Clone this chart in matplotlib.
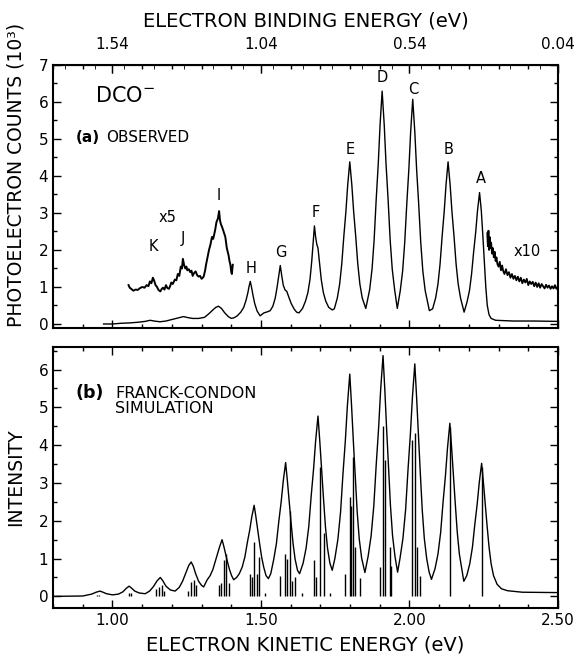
import matplotlib
matplotlib.use("Agg")
import matplotlib.pyplot as plt
from matplotlib.ticker import MultipleLocator, FixedLocator

plt.rcParams['font.family'] = ['DejaVu Sans']

# observed spectrum (eKE in eV, counts in 10^3)
obs_x = [0.97, 1.00, 1.03, 1.06, 1.09, 1.11, 1.127, 1.14, 1.16, 1.18, 1.20, 1.22, 1.239, 1.255, 1.27,
         1.29, 1.31, 1.325, 1.338, 1.348, 1.357, 1.367, 1.378, 1.39, 1.400,
         1.41, 1.42, 1.432, 1.442, 1.450, 1.456, 1.460, 1.464, 1.468, 1.473, 1.479, 1.487, 1.497,
         1.51, 1.522, 1.531, 1.540, 1.548, 1.554, 1.559, 1.565, 1.570, 1.575, 1.581, 1.587, 1.594,
         1.602, 1.612, 1.620, 1.628,
         1.640, 1.650, 1.658, 1.665, 1.671, 1.676, 1.680, 1.684, 1.688, 1.692, 1.697, 1.703, 1.710,
         1.718, 1.728, 1.740,
         1.747, 1.757, 1.765, 1.772, 1.779, 1.786, 1.792, 1.799, 1.806, 1.812, 1.819, 1.826, 1.833,
         1.841, 1.853,
         1.866, 1.874, 1.881, 1.888, 1.895, 1.901, 1.908, 1.915, 1.921, 1.928, 1.935, 1.942, 1.950,
         1.959,
         1.969, 1.977, 1.984, 1.991, 1.998, 2.004, 2.011, 2.018, 2.024, 2.031, 2.038, 2.045, 2.053,
         2.067,
         2.078, 2.088, 2.096, 2.103, 2.110, 2.117, 2.123, 2.130, 2.137, 2.143, 2.150, 2.157, 2.164,
         2.172, 2.184,
         2.194, 2.202, 2.209, 2.216, 2.223, 2.229, 2.236, 2.242, 2.247, 2.252, 2.257, 2.262, 2.268,
         2.275, 2.29, 2.35, 2.42, 2.50]
obs_y = [0.0, 0.0, 0.02, 0.03, 0.05, 0.07, 0.10, 0.08, 0.06, 0.08, 0.12, 0.16, 0.20, 0.17, 0.15,
         0.15, 0.18, 0.28, 0.38, 0.45, 0.48, 0.42, 0.30, 0.20, 0.15,
         0.17, 0.22, 0.32, 0.45, 0.65, 0.85, 1.02, 1.15, 1.00, 0.78, 0.55, 0.35, 0.22,
         0.30, 0.33, 0.36, 0.48, 0.70, 0.98, 1.25, 1.58, 1.30, 1.05, 0.92, 0.88, 0.72,
         0.55, 0.40, 0.32, 0.30,
         0.42, 0.62, 0.85, 1.20, 1.70, 2.25, 2.65, 2.35, 2.15, 2.05, 1.65, 1.20, 0.85,
         0.62, 0.45, 0.38,
         0.41, 0.70, 1.08, 1.62, 2.37, 3.04, 3.75, 4.38, 3.75, 3.04, 2.37, 1.62, 1.08,
         0.70, 0.42,
         0.93, 1.48, 2.27, 3.37, 4.34, 5.38, 6.29, 5.38, 4.34, 3.37, 2.27, 1.48, 0.93,
         0.42,
         0.90, 1.43, 2.20, 3.25, 4.19, 5.19, 6.07, 5.19, 4.19, 3.25, 2.20, 1.43, 0.90,
         0.36,
         0.41, 0.70, 1.08, 1.62, 2.37, 3.04, 3.75, 4.38, 3.75, 3.04, 2.37, 1.62, 1.08,
         0.70, 0.32,
         0.60, 0.90, 1.34, 1.94, 2.48, 3.05, 3.55, 3.05, 2.40, 1.70, 1.00, 0.50, 0.25,
         0.15, 0.10, 0.08, 0.08, 0.07]

# x5 expanded trace
x5_x = [1.054, 1.058, 1.063, 1.07, 1.078, 1.085, 1.093, 1.10, 1.108, 1.115, 1.121, 1.126, 1.131,
        1.136, 1.140, 1.145, 1.150, 1.155, 1.161, 1.166, 1.170, 1.175, 1.180, 1.185, 1.190, 1.194,
        1.198, 1.203, 1.21, 1.215, 1.22, 1.225, 1.23, 1.234, 1.237, 1.241, 1.245, 1.249, 1.252,
        1.257, 1.262, 1.266, 1.27, 1.275, 1.28, 1.285, 1.29, 1.295, 1.30, 1.304, 1.307, 1.312,
        1.315, 1.320, 1.325, 1.330, 1.335, 1.339, 1.342, 1.346, 1.35, 1.355, 1.359, 1.362,
        1.365, 1.369, 1.372, 1.376, 1.38, 1.385, 1.388, 1.391, 1.394, 1.397, 1.400, 1.402, 1.405]
x5_y = [1.05, 0.98, 0.95, 0.90, 0.93, 0.92, 0.97, 1.00, 0.98, 1.05, 1.02, 1.15, 1.10,
        1.25, 1.18, 1.05, 1.00, 0.92, 0.88, 0.95, 0.98, 0.93, 1.05, 0.97, 0.95, 1.02,
        1.12, 1.08, 1.20, 1.18, 1.35, 1.30, 1.55, 1.50, 1.76, 1.60, 1.50, 1.55, 1.45,
        1.48, 1.40, 1.44, 1.30, 1.38, 1.42, 1.32, 1.28, 1.30, 1.22, 1.25, 1.28, 1.45,
        1.60, 1.80, 2.00, 2.15, 2.35, 2.30, 2.40, 2.55, 2.75, 2.85, 3.05, 2.80,
        2.70, 2.62, 2.55, 2.45, 2.35, 2.05, 1.95, 1.85, 1.70, 1.60, 1.40, 1.35, 1.60]

# x10 expanded trace
x10_x = [2.262, 2.264, 2.266, 2.268, 2.270, 2.272, 2.275, 2.278, 2.281, 2.284, 2.287, 2.29, 2.293,
         2.296, 2.30, 2.304, 2.308, 2.312, 2.316, 2.32, 2.325, 2.33, 2.335, 2.34, 2.345, 2.35,
         2.355, 2.36, 2.365, 2.37, 2.375, 2.38, 2.385, 2.39, 2.395, 2.40, 2.405, 2.41, 2.415,
         2.42, 2.425, 2.43, 2.435, 2.44, 2.445, 2.45, 2.455, 2.46, 2.465, 2.47, 2.475, 2.48,
         2.485, 2.49, 2.495, 2.50]
x10_y = [2.45, 2.10, 2.52, 2.00, 2.35, 2.05, 2.20, 1.90, 2.05, 1.80, 1.95, 1.70, 1.80,
         1.62, 1.55, 1.68, 1.45, 1.58, 1.42, 1.35, 1.48, 1.32, 1.40, 1.25, 1.35, 1.22,
         1.30, 1.18, 1.28, 1.15, 1.25, 1.10, 1.20, 1.12, 1.22, 1.05, 1.15, 1.08, 1.14,
         1.02, 1.12, 1.00, 1.10, 0.98, 1.08, 1.02, 0.96, 1.06, 0.98, 1.04, 0.95, 1.02,
         0.96, 1.05, 0.95, 1.00]

peak_names = ['K', 'J', 'I', 'H', 'G', 'F', 'E', 'D', 'C', 'B', 'A']
peak_x = [1.137, 1.237, 1.357, 1.465, 1.566, 1.683, 1.799, 1.909, 2.012, 2.131, 2.239]
peak_lab_y = [2.08, 2.30, 3.47, 1.49, 1.94, 3.01, 4.71, 6.65, 6.34, 4.71, 3.94]

# Franck-Condon simulation envelope
sim_x = [0.80, 0.90, 0.93, 0.945, 0.958, 0.968, 0.98, 1.00,
         1.02, 1.035, 1.046, 1.056, 1.064, 1.075, 1.09, 1.11,
         1.125, 1.138, 1.150, 1.161, 1.169, 1.18, 1.195, 1.211,
         1.225, 1.236, 1.247, 1.257, 1.265, 1.272, 1.28, 1.29, 1.30, 1.307,
         1.319, 1.329, 1.338, 1.346, 1.354, 1.361, 1.369, 1.375, 1.381, 1.387, 1.394, 1.401, 1.408,
         1.418, 1.427, 1.437, 1.446, 1.454, 1.462, 1.469, 1.477, 1.483, 1.489, 1.495, 1.502, 1.509,
         1.517, 1.525,
         1.533, 1.543, 1.552, 1.560, 1.568, 1.575, 1.583, 1.589, 1.595, 1.601, 1.608, 1.615, 1.623,
         1.630,
         1.642, 1.652, 1.661, 1.669, 1.677, 1.684, 1.692, 1.698, 1.704, 1.710, 1.717, 1.724, 1.732,
         1.740,
         1.749, 1.759, 1.768, 1.776, 1.784, 1.791, 1.799, 1.805, 1.811, 1.817, 1.824, 1.831, 1.839,
         1.850,
         1.861, 1.871, 1.880, 1.888, 1.896, 1.903, 1.911, 1.917, 1.923, 1.929, 1.936, 1.943, 1.951,
         1.960,
         1.968, 1.978, 1.987, 1.995, 2.003, 2.010, 2.018, 2.024, 2.030, 2.036, 2.043, 2.050, 2.058,
         2.066, 2.074,
         2.086, 2.096, 2.105, 2.113, 2.121, 2.128, 2.136, 2.142, 2.148, 2.154, 2.161, 2.168, 2.176,
         2.183,
         2.193, 2.203, 2.212, 2.220, 2.228, 2.235, 2.243, 2.249, 2.255, 2.261, 2.268, 2.275, 2.283,
         2.295, 2.31, 2.33, 2.38, 2.50]
sim_y = [0.0, 0.01, 0.06, 0.11, 0.14, 0.11, 0.07, 0.04,
         0.06, 0.12, 0.21, 0.27, 0.22, 0.14, 0.09, 0.07,
         0.14, 0.26, 0.41, 0.50, 0.42, 0.27, 0.17, 0.14,
         0.24, 0.40, 0.62, 0.82, 0.91, 0.80, 0.60, 0.40, 0.29, 0.25,
         0.44, 0.55, 0.71, 0.92, 1.12, 1.32, 1.50, 1.32, 1.12, 0.92, 0.71, 0.55, 0.44,
         0.50, 0.60, 0.78, 1.05, 1.42, 1.75, 2.10, 2.41, 2.10, 1.75, 1.42, 1.05, 0.78,
         0.55, 0.47,
         0.60, 0.98, 1.40, 1.98, 2.50, 3.05, 3.54, 3.05, 2.50, 1.98, 1.40, 0.98, 0.69,
         0.60,
         0.88, 1.28, 1.85, 2.65, 3.36, 4.11, 4.77, 4.11, 3.36, 2.65, 1.85, 1.28, 0.88,
         0.69,
         1.01, 1.51, 2.23, 3.23, 4.11, 5.05, 5.88, 5.05, 4.11, 3.23, 2.23, 1.51, 1.01,
         0.63,
         1.07, 1.61, 2.40, 3.48, 4.44, 5.47, 6.37, 5.47, 4.44, 3.48, 2.40, 1.61, 1.07,
         0.64,
         1.00, 1.53, 2.29, 3.34, 4.28, 5.27, 6.15, 5.27, 4.28, 3.34, 2.29, 1.53, 1.00,
         0.65, 0.45,
         0.73, 1.12, 1.69, 2.48, 3.18, 3.92, 4.58, 3.92, 3.18, 2.48, 1.69, 1.12, 0.73,
         0.40,
         0.55, 0.86, 1.30, 1.90, 2.44, 3.01, 3.52, 3.01, 2.44, 1.90, 1.30, 0.86, 0.55,
         0.32, 0.20, 0.15, 0.11, 0.10]

# stick spectrum
stick_x = [0.947, 0.955, 1.055, 1.062, 1.147, 1.157, 1.166, 1.174,
           1.253, 1.265, 1.273, 1.282, 1.357, 1.365, 1.374, 1.382, 1.391,
           1.462, 1.470, 1.478, 1.487, 1.494, 1.515,
           1.565, 1.580, 1.588, 1.597, 1.604, 1.616, 1.638,
           1.680, 1.686, 1.700, 1.711, 1.733,
           1.784, 1.799, 1.804, 1.810, 1.816, 1.835,
           1.902, 1.911, 1.919, 1.933, 1.938,
           2.009, 2.018, 2.026, 2.035, 2.138, 2.245]
stick_h = [0.04, 0.03, 0.10, 0.08, 0.20, 0.26, 0.30, 0.15,
           0.15, 0.38, 0.44, 0.30, 0.30, 0.35, 0.95, 1.13, 0.35,
           0.60, 0.50, 1.44, 0.60, 1.04, 0.10,
           0.55, 1.13, 1.00, 2.27, 0.40, 0.50, 0.10,
           0.95, 0.50, 3.43, 1.67, 0.10,
           0.60, 2.63, 2.40, 3.70, 1.31, 0.48,
           0.78, 4.50, 3.60, 1.31, 0.80,
           4.14, 4.31, 1.31, 0.55, 4.49, 3.43]

fig = plt.figure(figsize=(5.77, 6.62), dpi=100)
ax1 = fig.add_axes([0.092, 0.505, 0.875, 0.397])
ax2 = fig.add_axes([0.092, 0.082, 0.875, 0.394])

lw = 1.0
ax1.plot(obs_x, obs_y, color='black', lw=lw)
ax1.plot(x5_x, x5_y, color='black', lw=1.4)
ax1.plot(x10_x, x10_y, color='black', lw=1.3)
for n, px, py in zip(peak_names, peak_x, peak_lab_y):
    ax1.text(px, py, n, ha='center', va='center', fontsize=10.5)
ax1.text(1.185, 2.89, 'x5', ha='center', va='center', fontsize=10.5)
ax1.text(2.397, 1.95, 'x10', ha='center', va='center', fontsize=10.5)
ax1.text(0.942, 6.16, 'DCO$^{-}$', ha='left', va='center', fontsize=15)
ax1.text(0.876, 5.03, '(a)', ha='left', va='center', fontsize=11, fontweight='bold')
ax1.text(0.979, 5.03, 'OBSERVED', ha='left', va='center', fontsize=11)

ax2.plot(sim_x, sim_y, color='black', lw=lw)
ax2.vlines(stick_x, 0, stick_h, color='black', lw=1.0)
ax2.text(0.876, 5.38, '(b)', ha='left', va='center', fontsize=12.5, fontweight='bold')
ax2.text(1.009, 5.56, 'FRANCK-CONDON\nSIMULATION', ha='left', va='top', fontsize=11.5,
         linespacing=0.95)

ax1.set_ylim(-0.1, 7.0)
ax2.set_ylim(-0.3, 6.6)
for ax in (ax1, ax2):
    ax.set_xlim(0.80, 2.50)
    ax.xaxis.set_major_locator(FixedLocator([1.0, 1.5, 2.0, 2.5]))
    ax.xaxis.set_minor_locator(MultipleLocator(0.1))
    ax.yaxis.set_major_locator(MultipleLocator(1))
    ax.yaxis.set_minor_locator(MultipleLocator(0.5))
    ax.tick_params(which='both', direction='in', top=True, right=True, width=1.0)
    ax.tick_params(which='major', length=6, labelsize=11)
    ax.tick_params(which='minor', length=3)
    for s in ax.spines.values():
        s.set_linewidth(1.5)

ax1.tick_params(labelbottom=False)
ax1.set_ylabel('PHOTOELECTRON COUNTS (10³)', fontsize=13.5)
ax1.yaxis.set_label_coords(-0.055, 0.58)
ax2.set_ylabel('INTENSITY', fontsize=13.5)
ax2.yaxis.set_label_coords(-0.055, 0.5)
ax2.set_xticklabels(['1.00', '1.50', '2.00', '2.50'])
ax2.set_xlabel('ELECTRON KINETIC ENERGY (eV)', fontsize=14, labelpad=6)

top = ax1.secondary_xaxis('top', functions=(lambda x: 2.54 - x, lambda b: 2.54 - b))
top.xaxis.set_major_locator(FixedLocator([1.54, 1.04, 0.54, 0.04]))
top.xaxis.set_minor_locator(MultipleLocator(0.1))
top.set_xticklabels(['1.54', '1.04', '0.54', '0.04'])
top.tick_params(which='both', direction='in', labelsize=11, pad=9)
top.tick_params(which='major', length=6)
top.tick_params(which='minor', length=3)
top.set_xlabel('ELECTRON BINDING ENERGY (eV)', fontsize=14, labelpad=8)

fig.savefig('out.png', dpi=100)
